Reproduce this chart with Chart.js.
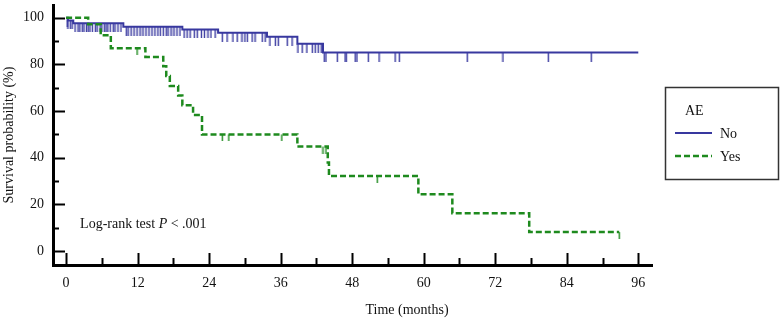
<!DOCTYPE html>
<html>
<head>
<meta charset="utf-8">
<script src="https://cdn.jsdelivr.net/npm/chart.js@4.4.0/dist/chart.umd.min.js"></script>
<style>
  html, body { margin: 0; padding: 0; background: #fff; }
  canvas { display: block; }
</style>
</head>
<body>
<canvas id="km" width="781" height="319"></canvas>
<script>
const xTicks = [0, 12, 24, 36, 48, 60, 72, 84, 96];
const yTicks = [0, 20, 40, 60, 80, 100];

// AE = No : step times (months) and survival (%)
const noTimes = [0, 0.3, 1.2, 9.6, 19.5, 25.5, 33.7, 38.8, 43.1, 96];
const noSurv = [100, 98.9, 97.7, 96.2, 95.0, 93.6, 91.9, 88.9, 85.1, 85.1];
const noCensored = [
  0.2, 0.3, 0.7, 1.0, 1.5, 2.0, 2.3, 2.7, 3.0, 3.4, 3.7, 4.0, 4.4, 4.9, 5.2, 5.7, 6.0, 6.4, 6.7, 7.0, 7.4, 7.9, 8.2, 8.7, 9.2,
  10.1, 10.4, 10.9, 11.4, 11.9, 12.4, 12.9, 13.4, 13.9, 14.4, 14.9, 15.4, 15.8, 16.3, 16.8, 17.1, 17.6, 18.1, 18.6, 19.1,
  19.8, 20.3, 20.8, 21.5, 22.0, 22.7, 23.2, 23.8, 24.3, 25.0,
  26.2, 27.0, 28.0, 28.7, 29.5, 30.0, 30.4, 31.2, 31.7, 32.9, 33.4,
  34.2, 35.1, 35.6, 37.1, 37.9,
  38.9, 39.6, 40.4, 41.3, 41.8, 42.3, 42.8,
  43.3, 43.6, 45.5, 46.8, 47.0, 48.5, 48.8, 50.7, 52.5, 55.2, 55.9, 67.3, 73.3, 80.9, 88.1
];

// AE = Yes
const yesTimes = [0, 3.7, 5.8, 7.5, 13.3, 16.3, 16.8, 17.4, 18.8, 19.5, 21.3, 22.8, 38.8, 43.9, 44.1, 59.1, 64.8, 77.7, 92.8];
const yesSurv = [100, 97.2, 92.5, 87.0, 83.2, 79.2, 75.0, 70.8, 66.7, 62.5, 58.3, 50.0, 44.8, 38.0, 32.2, 24.3, 16.2, 8.1, 8.1];
const yesCensored = [11.9, 26.2, 27.3, 36.2, 43.1, 43.6, 52.2, 92.8];

const blue = '#38389f';
const green = '#1e8a1e';

function survAt(times, surv, t) {
  let s = surv[0];
  for (let i = 0; i < times.length; i++) {
    if (times[i] <= t) s = surv[i];
  }
  return s;
}

function censorMark(color, len) {
  const c = document.createElement('canvas');
  c.width = 3;
  c.height = len * 2;
  const g = c.getContext('2d');
  g.strokeStyle = color;
  g.lineWidth = 1.4;
  g.beginPath();
  g.moveTo(1.5, len);
  g.lineTo(1.5, len * 2);
  g.stroke();
  return c;
}

const steps = (times, surv) => times.map((t, i) => ({ x: t, y: surv[i] }));
const marks = (cens, times, surv) => cens.map(t => ({ x: t, y: survAt(times, surv, t) }));

const serif = '"Liberation Serif", "Times New Roman", serif';
Chart.defaults.font.family = serif;
Chart.defaults.font.size = 14;
Chart.defaults.color = '#111';

const axisTicks = {
  id: 'axisTicks',
  afterDraw(chart) {
    const { ctx, scales: { x, y } } = chart;
    const bottom = chart.chartArea.bottom;
    const left = chart.chartArea.left;
    ctx.save();
    ctx.strokeStyle = '#000';
    ctx.lineWidth = 2;
    xTicks.forEach((v, i) => {
      const px = Math.round(x.getPixelForValue(v)) + 0.5;
      ctx.beginPath();
      ctx.moveTo(px, bottom);
      ctx.lineTo(px, bottom - 12);
      ctx.stroke();
      if (i < xTicks.length - 1) {
        const mx = Math.round(x.getPixelForValue((v + xTicks[i + 1]) / 2)) + 0.5;
        ctx.beginPath();
        ctx.moveTo(mx, bottom);
        ctx.lineTo(mx, bottom - 7);
        ctx.stroke();
      }
    });
    yTicks.forEach((v, i) => {
      const py = Math.round(y.getPixelForValue(v)) + 0.5;
      ctx.beginPath();
      ctx.moveTo(left, py);
      ctx.lineTo(left + 12, py);
      ctx.stroke();
      if (i < yTicks.length - 1) {
        const my = Math.round(y.getPixelForValue((v + yTicks[i + 1]) / 2)) + 0.5;
        ctx.beginPath();
        ctx.moveTo(left, my);
        ctx.lineTo(left + 6, my);
        ctx.stroke();
      }
    });
    ctx.restore();
  }
};

const extras = {
  id: 'extras',
  afterDraw(chart) {
    const { ctx, scales: { x, y } } = chart;
    ctx.save();
    ctx.fillStyle = '#111';
    ctx.textBaseline = 'alphabetic';
    ctx.textAlign = 'left';

    // log-rank annotation
    let tx = x.getPixelForValue(2.35);
    const ty = y.getPixelForValue(10);
    ctx.font = '14px ' + serif;
    const part1 = 'Log-rank test ';
    ctx.fillText(part1, tx, ty);
    tx += ctx.measureText(part1).width;
    ctx.font = 'italic 14px ' + serif;
    ctx.fillText('P', tx, ty);
    tx += ctx.measureText('P').width;
    ctx.font = '14px ' + serif;
    ctx.fillText(' < .001', tx, ty);

    // x axis title
    ctx.textAlign = 'center';
    ctx.textBaseline = 'middle';
    ctx.fillText('Time (months)', 407, 310);

    // legend box
    ctx.strokeStyle = '#333';
    ctx.lineWidth = 1.5;
    ctx.strokeRect(665.5, 87.5, 113, 92);
    ctx.textAlign = 'left';
    ctx.fillText('AE', 685, 111);
    ctx.fillText('No', 720, 134);
    ctx.fillText('Yes', 720, 157);

    ctx.lineWidth = 2;
    ctx.strokeStyle = blue;
    ctx.beginPath();
    ctx.moveTo(675, 133);
    ctx.lineTo(712, 133);
    ctx.stroke();

    ctx.lineWidth = 2.5;
    ctx.strokeStyle = green;
    ctx.setLineDash([6, 3]);
    ctx.beginPath();
    ctx.moveTo(675, 156);
    ctx.lineTo(712, 156);
    ctx.stroke();
    ctx.restore();
  }
};

new Chart(document.getElementById('km'), {
  type: 'line',
  data: {
    datasets: [
      {
        label: 'Yes',
        data: steps(yesTimes, yesSurv),
        stepped: true,
        borderColor: green,
        borderWidth: 2.5,
        borderDash: [6, 3],
        pointRadius: 0,
        fill: false
      },
      {
        label: 'Yes censored',
        data: marks(yesCensored, yesTimes, yesSurv),
        showLine: false,
        pointStyle: censorMark(green, 7),
        pointRadius: 3
      },
      {
        label: 'No',
        data: steps(noTimes, noSurv),
        stepped: true,
        borderColor: blue,
        borderWidth: 2,
        pointRadius: 0,
        fill: false
      },
      {
        label: 'No censored',
        data: marks(noCensored, noTimes, noSurv),
        showLine: false,
        pointStyle: censorMark(blue, 9),
        pointRadius: 3
      }
    ]
  },
  options: {
    responsive: false,
    animation: false,
    devicePixelRatio: 1,
    layout: { padding: { top: 3, right: 129, left: 0, bottom: 0 } },
    plugins: {
      legend: { display: false },
      tooltip: { enabled: false }
    },
    scales: {
      x: {
        type: 'linear',
        min: -2.2,
        max: 98.3,
        afterBuildTicks: s => { s.ticks = xTicks.map(v => ({ value: v })); },
        afterFit: s => { s.height = 54; s.paddingLeft = 0; s.paddingRight = 0; },
        grid: { drawOnChartArea: false, drawTicks: false },
        border: { display: true, color: '#000', width: 3 },
        ticks: { padding: 10, maxRotation: 0, autoSkip: false, color: '#111', font: { size: 14 } }
      },
      y: {
        type: 'linear',
        min: -6,
        max: 105.5,
        afterBuildTicks: s => { s.ticks = yTicks.map(v => ({ value: v })); },
        afterFit: s => { s.width = 53; s.paddingTop = 0; s.paddingBottom = 0; },
        grid: { drawOnChartArea: false, drawTicks: false },
        border: { display: true, color: '#000', width: 3 },
        ticks: { padding: 9, autoSkip: false, color: '#111', font: { size: 14 } },
        title: {
          display: true,
          text: 'Survival probability (%)',
          color: '#111',
          font: { size: 14 },
          padding: { top: 1, bottom: 0 }
        }
      }
    }
  },
  plugins: [axisTicks, extras]
});
</script>
</body>
</html>
